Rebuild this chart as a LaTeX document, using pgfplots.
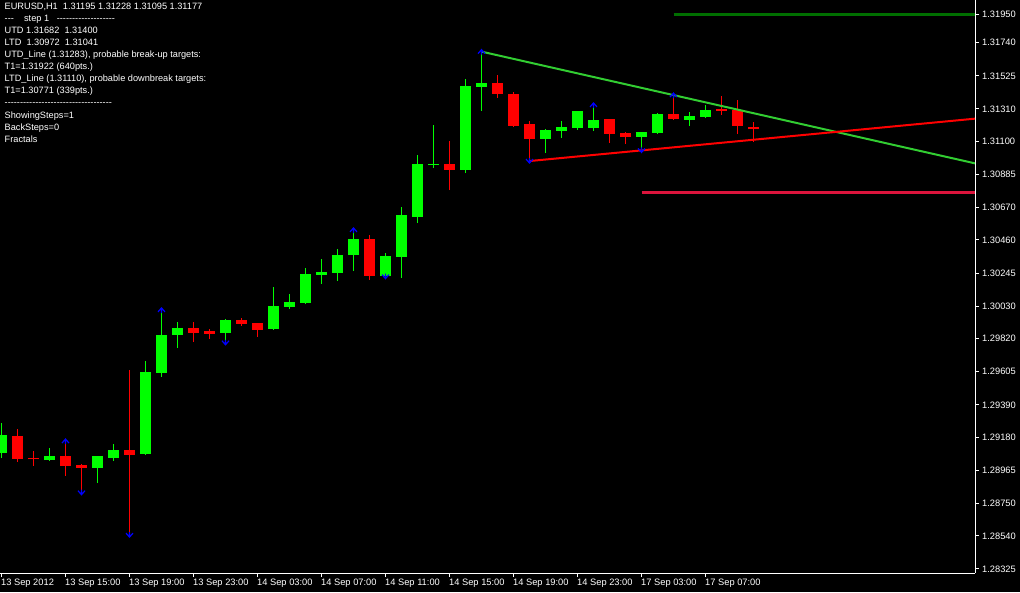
\documentclass[border=0pt]{standalone}
\usepackage{fontspec}
\usepackage{pgfplots}
\usepackage{pgfplotstable}
\pgfplotsset{compat=1.18}
\newfontfamily\mt{Liberation Sans}
\definecolor{mtgreen}{RGB}{0,255,0}
\definecolor{mtred}{RGB}{255,0,0}
\definecolor{utd}{RGB}{50,205,50}
\definecolor{tgtg}{RGB}{0,110,0}
\definecolor{tgtr}{RGB}{220,20,60}
\definecolor{frac}{RGB}{0,0,255}

\pgfplotstableread{
i o h l c
0 1.29080 1.29270 1.29047 1.29194
3 1.29032 1.29110 1.29026 1.29058
6 1.28982 1.29060 1.28885 1.29058
7 1.29047 1.29136 1.29028 1.29097
9 1.29073 1.29675 1.29065 1.29603
10 1.29599 1.30006 1.29573 1.29843
11 1.29845 1.29928 1.29761 1.29889
14 1.29858 1.29947 1.29793 1.29941
17 1.29884 1.30155 1.29878 1.30031
18 1.30027 1.30109 1.30014 1.30057
19 1.30053 1.30278 1.30046 1.30239
20 1.30235 1.30336 1.30176 1.30252
21 1.30248 1.30401 1.30196 1.30362
22 1.30364 1.30525 1.30261 1.30466
24 1.30228 1.30375 1.30222 1.30356
25 1.30351 1.30674 1.30215 1.30622
26 1.30611 1.31011 1.30572 1.30953
27 1.30946 1.31206 1.30929 1.30953
29 1.30916 1.31504 1.30896 1.31459
30 1.31453 1.31682 1.31299 1.31479
34 1.31117 1.31182 1.31026 1.31174
35 1.31169 1.31232 1.31124 1.31193
36 1.31188 1.31297 1.31176 1.31297
37 1.31188 1.31336 1.31169 1.31238
40 1.31130 1.31161 1.31041 1.31161
41 1.31156 1.31286 1.31150 1.31277
43 1.31240 1.31290 1.31201 1.31264
44 1.31260 1.31336 1.31253 1.31303
}\greentab

\pgfplotstableread{
i o h l c
1 1.29188 1.29233 1.29021 1.29041
2 1.29038 1.29091 1.28995 1.29036
4 1.29058 1.29155 1.28930 1.28995
5 1.29002 1.29006 1.28820 1.28982
8 1.29097 1.29616 1.28545 1.29067
12 1.29889 1.29928 1.29800 1.29858
13 1.29869 1.29882 1.29819 1.29852
15 1.29941 1.29954 1.29902 1.29917
16 1.29921 1.29921 1.29832 1.29878
23 1.30466 1.30492 1.30202 1.30228
28 1.30953 1.31102 1.30784 1.30916
31 1.31479 1.31530 1.31383 1.31409
32 1.31407 1.31420 1.31195 1.31201
33 1.31212 1.31232 1.30972 1.31117
38 1.31245 1.31245 1.31091 1.31150
39 1.31154 1.31161 1.31085 1.31130
42 1.31277 1.31400 1.31240 1.31247
45 1.31312 1.31394 1.31273 1.31299
46 1.31305 1.31368 1.31150 1.31201
47 1.31195 1.31228 1.31095 1.31177
}\redtab

\pgfdeclareplotmark{fup}{%
  \pgfpathmoveto{\pgfpoint{-3.5pt}{-2pt}}%
  \pgfpathlineto{\pgfpoint{0pt}{2pt}}%
  \pgfpathlineto{\pgfpoint{3.5pt}{-2pt}}%
  \pgfpathmoveto{\pgfpoint{0pt}{2pt}}%
  \pgfpathlineto{\pgfpoint{0pt}{-3pt}}%
  \pgfusepathqstroke}
\pgfdeclareplotmark{fdown}{%
  \pgfpathmoveto{\pgfpoint{-3.5pt}{2pt}}%
  \pgfpathlineto{\pgfpoint{0pt}{-2pt}}%
  \pgfpathlineto{\pgfpoint{3.5pt}{2pt}}%
  \pgfpathmoveto{\pgfpoint{0pt}{-2pt}}%
  \pgfpathlineto{\pgfpoint{0pt}{3pt}}%
  \pgfusepathqstroke}

\pgfplotsset{
  wick/.style={draw=none, mark=none, forget plot,
    error bars/.cd, y dir=plus, y explicit, error mark=none,
    error bar style={draw=#1, solid, line width=1.1pt}},
  body/.style={draw=none, mark=none, forget plot,
    error bars/.cd, y dir=plus, y explicit, error mark=none,
    error bar style={draw=#1, solid, line width=11pt}},
}

\begin{document}
\begin{tikzpicture}
\fill[black] (0,0) rectangle (1020pt,592pt);
\begin{axis}[
  at={(0pt,19pt)}, anchor=south west,
  scale only axis, width=975pt, height=573pt,
  xmin=-0.09375, xmax=60.84375, ymin=1.28299, ymax=1.32017,
  axis x line=bottom, axis y line=right,
  axis line style={-, white, line width=1pt},
  x axis line style={-}, y axis line style={-},
  tick align=outside, major tick length=4pt,
  tick style={white, line width=1pt},
  scaled y ticks=false, scaled x ticks=false,
  xtick={0,4,...,44},
  xticklabels={13 Sep 2012,13 Sep 15:00,13 Sep 19:00,13 Sep 23:00,14 Sep 03:00,14 Sep 07:00,14 Sep 11:00,14 Sep 15:00,14 Sep 19:00,14 Sep 23:00,17 Sep 03:00,17 Sep 07:00},
  ytick={1.28325,1.28540,1.28750,1.28965,1.29180,1.29390,1.29605,1.29820,1.30030,1.30245,1.30460,1.30670,1.30885,1.31100,1.31310,1.31525,1.31740,1.31924},
  yticklabels={1.28325,1.28540,1.28750,1.28965,1.29180,1.29390,1.29605,1.29820,1.30030,1.30245,1.30460,1.30670,1.30885,1.31100,1.31310,1.31525,1.31740,1.31950},
  x tick label style={anchor=north west, inner sep=0pt, xshift=-0.5pt, yshift=-2pt, font=\mt\fontsize{9.3}{11}\selectfont, text=white},
  y tick label style={anchor=west, inner sep=0pt, xshift=3pt, font=\mt\fontsize{9.3}{11}\selectfont, text=white},
]
% green candles
\addplot[wick=mtgreen] table[x=i, y=l, y error plus expr={\thisrow{h}-\thisrow{l}}] {\greentab};
\addplot[body=mtgreen] table[x=i, y=o, y error plus expr={max(\thisrow{c}-\thisrow{o},0.00007)}] {\greentab};
% red candles
\addplot[wick=mtred] table[x=i, y=l, y error plus expr={\thisrow{h}-\thisrow{l}}] {\redtab};
\addplot[body=mtred] table[x=i, y=c, y error plus expr={max(\thisrow{o}-\thisrow{c},0.00007)}] {\redtab};
% trend lines
\addplot[utd, line width=2pt] coordinates {(30,1.31682) (60.84375,1.30957)};
\addplot[mtred, line width=2pt] coordinates {(33,1.30972) (60.84375,1.31247)};
% targets
\addplot[tgtg, line width=3pt] coordinates {(42,1.31922) (60.84375,1.31922)};
\addplot[tgtr, line width=3pt] coordinates {(40,1.30771) (60.84375,1.30771)};
% fractals
\addplot[only marks, mark=fup, frac, mark options={line width=1.2pt}] coordinates {
(4,1.29155) (10,1.30006) (22,1.30525) (30,1.31682) (37,1.31336) (42,1.31400)};
\addplot[only marks, mark=fdown, frac, mark options={line width=1.2pt}] coordinates {
(5,1.28820) (8,1.28545) (14,1.29793) (24,1.30222) (33,1.30972) (40,1.31041)};
\node[anchor=west, fill=white, text=black, inner sep=1pt, xshift=4pt, font=\mt\fontsize{9.3}{9}\selectfont] at (axis cs:60.84375,1.31177) {1.31177};
\node[anchor=north west, align=left, text=white, inner sep=0pt, xshift=4.5pt, yshift=-2.5pt, font=\mt\fontsize{9.2}{12.1}\selectfont] at (rel axis cs:0,1) {%
EURUSD,H1\ \ 1.31195 1.31228 1.31095 1.31177\\
---\ \ \ \ step 1\ \ \ -------------------\\
UTD 1.31682\ \ 1.31400\\
LTD\ \ 1.30972\ \ 1.31041\\
UTD\_Line (1.31283), probable break-up targets:\\
T1=1.31922 (640pts.)\\
LTD\_Line (1.31110), probable downbreak targets:\\
T1=1.30771 (339pts.)\\
-----------------------------------\\
ShowingSteps=1\\
BackSteps=0\\
Fractals};
\end{axis}
\pgfresetboundingbox
\path (0,0) rectangle (1020pt,592pt);
\end{tikzpicture}
\end{document}
